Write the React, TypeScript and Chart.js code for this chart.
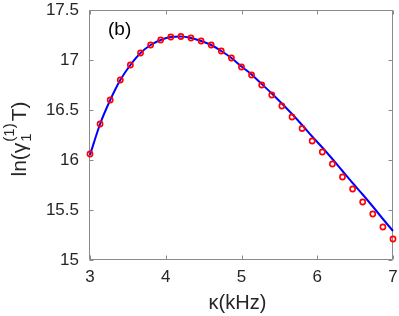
import React, { useEffect, useRef } from "react";
import { Chart, registerables } from "chart.js";

Chart.register(...registerables);

const kappa = [3.0, 3.133, 3.267, 3.4, 3.533, 3.667, 3.8, 3.933, 4.067, 4.2, 4.333, 4.467, 4.6, 4.733, 4.867, 5.0, 5.133, 5.267, 5.4, 5.533, 5.667, 5.8, 5.933, 6.067, 6.2, 6.333, 6.467, 6.6, 6.733, 6.867, 7.0];
const markerY = [16.06, 16.36, 16.6, 16.8, 16.95, 17.07, 17.15, 17.2, 17.23, 17.235, 17.22, 17.19, 17.15, 17.09, 17.02, 16.93, 16.85, 16.75, 16.65, 16.54, 16.43, 16.315, 16.19, 16.08, 15.96, 15.83, 15.71, 15.58, 15.46, 15.33, 15.21];
const lineY = [16.05, 16.36, 16.6, 16.8, 16.95, 17.07, 17.15, 17.2, 17.23, 17.235, 17.22, 17.19, 17.15, 17.09, 17.02, 16.935, 16.855, 16.76, 16.665, 16.565, 16.46, 16.35, 16.235, 16.125, 16.01, 15.89, 15.77, 15.655, 15.535, 15.41, 15.29];
const xTickValues = [3, 4, 5, 6, 7];
const yTickValues = [15, 15.5, 16, 16.5, 17, 17.5];
const panelLabel = "(b)";
const xTitle = "κ(kHz)";

const FONT = '"Liberation Sans", Arial, Helvetica, sans-serif';
const TEXT = "#262626";
const FRAME = "#8a8a8a";

const overlay = {
  id: "overlay",
  beforeDatasetsDraw(chart: any) {
    const { ctx, chartArea, scales } = chart;
    const { left, right, top, bottom } = chartArea;
    const x = scales.x;
    const y = scales.y;
    ctx.save();
    ctx.strokeStyle = FRAME;
    ctx.lineWidth = 1;
    const L = Math.round(left) - 0.5;
    const R = Math.round(right) - 0.5;
    const T = Math.round(top) + 0.5;
    const B = Math.round(bottom) - 0.5;
    ctx.beginPath();
    ctx.rect(L, T, R - L, B - T);
    const tl = 4;
    xTickValues.forEach((v) => {
      const px = Math.round(x.getPixelForValue(v)) + 0.5;
      ctx.moveTo(px, B);
      ctx.lineTo(px, B - tl);
      ctx.moveTo(px, T);
      ctx.lineTo(px, T + tl);
    });
    yTickValues.forEach((v) => {
      const py = Math.round(y.getPixelForValue(v)) + 0.5;
      ctx.moveTo(L, py);
      ctx.lineTo(L + tl, py);
      ctx.moveTo(R, py);
      ctx.lineTo(R - tl, py);
    });
    ctx.stroke();
    ctx.restore();
  },
  afterDraw(chart: any) {
    const { ctx, chartArea } = chart;
    const { left, right } = chartArea;
    ctx.save();
    ctx.fillStyle = "#000";
    // panel label
    ctx.font = `19px ${FONT}`;
    ctx.textAlign = "left";
    ctx.textBaseline = "alphabetic";
    ctx.fillText(panelLabel, 108, 35);

    // x title
    ctx.fillStyle = TEXT;
    ctx.font = `20px ${FONT}`;
    ctx.textAlign = "center";
    ctx.fillText(xTitle, (left + right) / 2 - 4, 309);

    // y title: ln(γ_1^(1) T)
    const main = `21px ${FONT}`;
    const small = `15px ${FONT}`;
    ctx.font = main;
    const w1 = ctx.measureText("ln(γ").width;
    const w4 = ctx.measureText("T)").width;
    ctx.font = small;
    const wSup = ctx.measureText("(1)").width;
    const wSub = ctx.measureText("1").width;
    const wMid = Math.max(wSup, wSub) + 3;
    const total = w1 + wMid + w4;
    const cy = 139;
    const baseX = 26;
    ctx.translate(baseX, cy);
    ctx.rotate(-Math.PI / 2);
    ctx.textAlign = "left";
    ctx.textBaseline = "alphabetic";
    let pos = -total / 2;
    ctx.font = main;
    ctx.fillText("ln(γ", pos, 0);
    pos += w1;
    ctx.font = small;
    ctx.fillText("1", pos + 1, 5);
    ctx.fillText("(1)", pos + 1, -12);
    pos += wMid;
    ctx.font = main;
    ctx.fillText("T)", pos, 0);
    ctx.restore();
  },
};

export default function App() {
  const ref = useRef<HTMLCanvasElement | null>(null);
  useEffect(() => {
    if (!ref.current) return;
    const markers = kappa.map((k, i) => ({ x: k, y: markerY[i] }));
    const curve = kappa.map((k, i) => ({ x: k, y: lineY[i] }));
    const chart = new Chart(ref.current, {
      type: "line",
      data: {
        datasets: [
          {
            data: markers,
            showLine: false,
            pointStyle: "circle",
            pointRadius: 2.6,
            pointBorderWidth: 1.6,
            pointBorderColor: "#ff0000",
            pointBackgroundColor: "rgba(0,0,0,0)",
            clip: false,
          } as any,
          {
            data: curve,
            borderColor: "#0000ff",
            borderWidth: 2,
            pointRadius: 0,
            cubicInterpolationMode: "monotone",
            fill: false,
            clip: false,
          } as any,
        ],
      },
      options: {
        responsive: false,
        animation: false,
        events: [],
        layout: { padding: { top: 10, right: 6, left: 0, bottom: 0 } },
        plugins: { legend: { display: false }, tooltip: { enabled: false } },
        scales: {
          x: {
            type: "linear",
            min: 3,
            max: 7,
            grid: { display: false, drawTicks: false },
            border: { display: false },
            afterBuildTicks: (s: any) => {
              s.ticks = xTickValues.map((v) => ({ value: v }));
            },
            afterFit: (s: any) => {
              s.height = 56;
              s.paddingLeft = 0;
              s.paddingRight = 0;
            },
            ticks: {
              color: TEXT,
              font: { family: FONT, size: 17 },
              padding: 7,
              maxRotation: 0,
              callback: (v: any) => `${+v}`,
            },
          },
          y: {
            type: "linear",
            min: 15,
            max: 17.5,
            grid: { display: false, drawTicks: false },
            border: { display: false },
            afterBuildTicks: (s: any) => {
              s.ticks = yTickValues.map((v) => ({ value: v }));
            },
            afterFit: (s: any) => {
              s.width = 90;
              s.paddingTop = 0;
              s.paddingBottom = 0;
            },
            ticks: {
              color: TEXT,
              font: { family: FONT, size: 17 },
              padding: 11,
              callback: (v: any) => `${+v}`,
            },
          },
        },
      },
      plugins: [overlay],
    });
    return () => chart.destroy();
  }, []);
  return (
    <div style={{ position: "fixed", left: 0, top: 0, width: 399, height: 316, background: "#fff" }}>
      <canvas ref={ref} width={399} height={316} style={{ display: "block" }} />
    </div>
  );
}
